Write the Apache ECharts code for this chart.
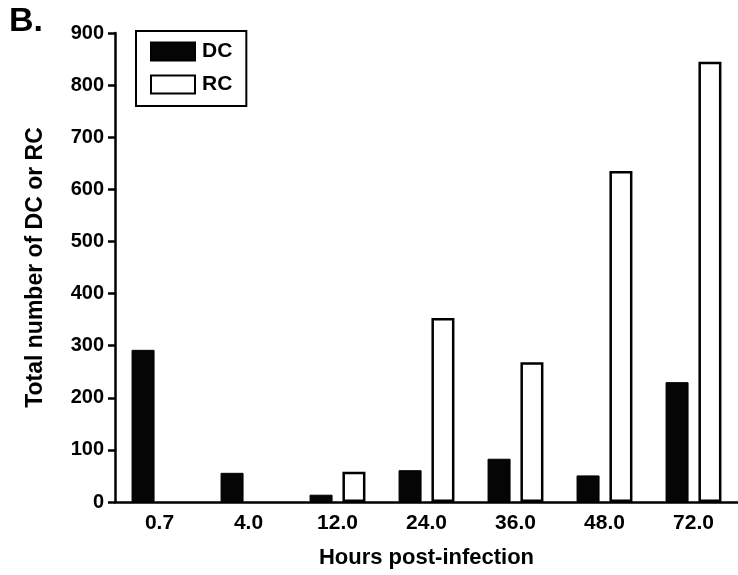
<!DOCTYPE html>
<html>
<head>
<meta charset="utf-8">
<script src="https://cdn.jsdelivr.net/npm/echarts@6/dist/echarts.min.js"></script>
<style>
	html, body { margin: 0; padding: 0; background: #fff; }
	#chart { width: 738px; height: 575px; }
</style>
</head>
<body>
<div id="chart"></div>
<script>
var hours = ['0.7', '4.0', '12.0', '24.0', '36.0', '48.0', '72.0'];
var dcValues = [292, 56, 14, 61, 83, 51, 230];
var rcValues = [0, 0, 58, 353, 268, 635, 845];

var font = '"Liberation Sans", Arial, sans-serif';

// zero bars get no outline so they do not sit on the axis as a flat box
function barData(values) {
	return values.map(function (v) {
		return v === 0 ? { value: v, itemStyle: { borderWidth: 0 } } : v;
	});
}

var chart = echarts.init(document.getElementById('chart'));
chart.setOption({
	animation: false,
	textStyle: { fontFamily: font },
	graphic: [
		{
			type: 'text',
			left: 9,
			top: 5,
			style: { text: 'B.', font: 'bold 34px ' + font, fill: '#000' }
		}
	],
	legend: {
		orient: 'vertical',
		left: 136,
		top: 31,
		padding: [10, 14, 11, 14],
		itemGap: 12,
		itemWidth: 44,
		itemHeight: 18,
		icon: 'rect',
		borderColor: '#000',
		borderWidth: 2,
		textStyle: { fontSize: 21, fontWeight: 'bold', color: '#000', lineHeight: 18, padding: [0, 0, 0, 2] },
		data: ['DC', 'RC']
	},
	grid: {
		left: 115,
		right: 0,
		top: 33,
		bottom: 73,
		containLabel: false
	},
	xAxis: {
		type: 'category',
		data: hours,
		name: 'Hours post-infection',
		nameLocation: 'middle',
		nameGap: 45,
		nameTextStyle: { fontSize: 22, fontWeight: 'bold', color: '#000' },
		axisLine: { lineStyle: { color: '#000', width: 2.5 } },
		axisTick: { alignWithLabel: true, length: 7, lineStyle: { color: '#000', width: 2.5 } },
		axisLabel: { fontSize: 21, fontWeight: 'bold', color: '#000', margin: 11 }
	},
	yAxis: {
		type: 'value',
		min: 0,
		max: 900,
		interval: 100,
		name: 'Total number of DC or RC',
		nameLocation: 'middle',
		nameGap: 68,
		nameTextStyle: { fontSize: 23, fontWeight: 'bold', color: '#000' },
		splitLine: { show: false },
		axisLine: { show: true, lineStyle: { color: '#000', width: 2.5 } },
		axisTick: { show: true, length: 7, lineStyle: { color: '#000', width: 2.5 } },
		axisLabel: { fontSize: 20, fontWeight: 'bold', color: '#000', margin: 11 }
	},
	series: [
		{
			name: 'DC',
			type: 'bar',
			data: dcValues,
			barWidth: 23,
			barGap: '43%',
			z: 3,
			itemStyle: { color: '#050505', borderColor: '#000', borderWidth: 1 }
		},
		{
			name: 'RC',
			type: 'bar',
			data: barData(rcValues),
			barWidth: 23,
			z: 1,
			itemStyle: { color: '#fff', borderColor: '#000', borderWidth: 2.5 }
		}
	]
});
</script>
</body>
</html>
